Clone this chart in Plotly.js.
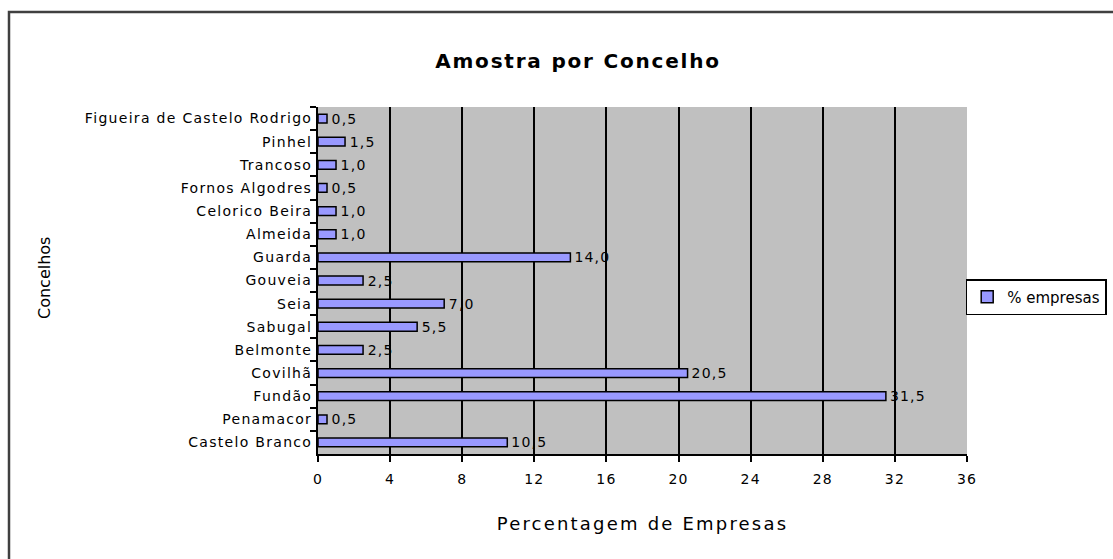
<!DOCTYPE html>
<html>
<head>
<meta charset="utf-8">
<script src="https://cdn.plot.ly/plotly-3.0.1.min.js"></script>
<style>
html,body{margin:0;padding:0;background:#fff;}
#chart{width:1113px;height:559px;}
#chart .ytick text{letter-spacing:1.3px;}
#chart .xtick text{letter-spacing:1.2px;}
#chart text.bartext{letter-spacing:1.2px;}
#chart text.gtitle{letter-spacing:1.8px;}
#chart text.xtitle{letter-spacing:2.2px;}
</style>
</head>
<body>
<div id="chart"></div>
<script>
const concelhos = ["Figueira de Castelo Rodrigo","Pinhel","Trancoso","Fornos Algodres","Celorico Beira","Almeida","Guarda","Gouveia","Seia","Sabugal","Belmonte","Covilhã","Fundão","Penamacor","Castelo Branco"];
const empresas = [0.5,1.5,1.0,0.5,1.0,1.0,14.0,2.5,7.0,5.5,2.5,20.5,31.5,0.5,10.5];
const xTicks = [0,4,8,12,16,20,24,28,32,36];

const labels = empresas.map(v => '\u2009' + v.toFixed(1).replace('.', ','));
const FONT = 'DejaVu Sans, Verdana, sans-serif';

const trace = {
  type: 'bar',
  orientation: 'h',
  x: empresas,
  y: concelhos,
  name: '% empresas',
  text: labels,
  textposition: 'outside',
  constraintext: 'none',
  cliponaxis: false,
  textfont: {family: FONT, size: 14, color: '#000'},
  marker: {color: '#9999FF', line: {color: '#000', width: 1.5}},
  showlegend: true
};

const layout = {
  width: 1113, height: 559,
  margin: {l: 318, r: 146, t: 107, b: 105, autoexpand: false},
  paper_bgcolor: '#fff',
  plot_bgcolor: '#C0C0C0',
  bargap: 0.62,
  font: {family: FONT, size: 14, color: '#000'},
  title: {
    text: '<b>Amostra por Concelho</b>',
    font: {size: 20, family: FONT, color: '#000'},
    x: 578/1113, xref: 'container', xanchor: 'center',
    y: 1 - 61/559, yref: 'container', yanchor: 'middle'
  },
  xaxis: {
    range: [0, 36],
    tickvals: xTicks,
    ticktext: xTicks.map(String),
    showgrid: true, gridcolor: '#000', gridwidth: 2,
    zeroline: false,
    showline: true, linecolor: '#000', linewidth: 2,
    ticks: 'outside', ticklen: 6, tickwidth: 2, tickcolor: '#000',
    ticklabelstandoff: 5,
    tickfont: {size: 14},
    title: {text: 'Percentagem de Empresas', font: {size: 18}, standoff: 32},
    automargin: false,
    fixedrange: true
  },
  yaxis: {
    autorange: 'reversed',
    type: 'category',
    showgrid: false,
    showline: true, linecolor: '#000', linewidth: 2,
    ticks: 'outside', ticklen: 6, tickwidth: 2, tickcolor: '#000',
    tickson: 'boundaries',
    ticklabelstandoff: 1,
    tickfont: {size: 14},
    automargin: false,
    fixedrange: true
  },
  legend: {
    x: 0.998, xanchor: 'left', xref: 'paper',
    y: (454-297)/347, yanchor: 'middle', yref: 'paper',
    bgcolor: '#fff', bordercolor: '#000', borderwidth: 1.5,
    font: {size: 15},
    itemwidth: 30
  },
  annotations: [{
    text: 'Concelhos', textangle: -90,
    xref: 'paper', yref: 'paper',
    x: (44-318)/649, y: (454-278)/347,
    xanchor: 'center', yanchor: 'middle',
    showarrow: false, font: {size: 16}
  }],
  shapes: [{
    type: 'rect', xref: 'paper', yref: 'paper',
    x0: (9-318)/649, x1: 2, y0: -1, y1: (454-12)/347,
    line: {color: '#404040', width: 2.5}, fillcolor: 'rgba(0,0,0,0)', layer: 'below'
  }]
};

Plotly.newPlot('chart', [trace], layout, {displayModeBar: false, staticPlot: true});
</script>
</body>
</html>
